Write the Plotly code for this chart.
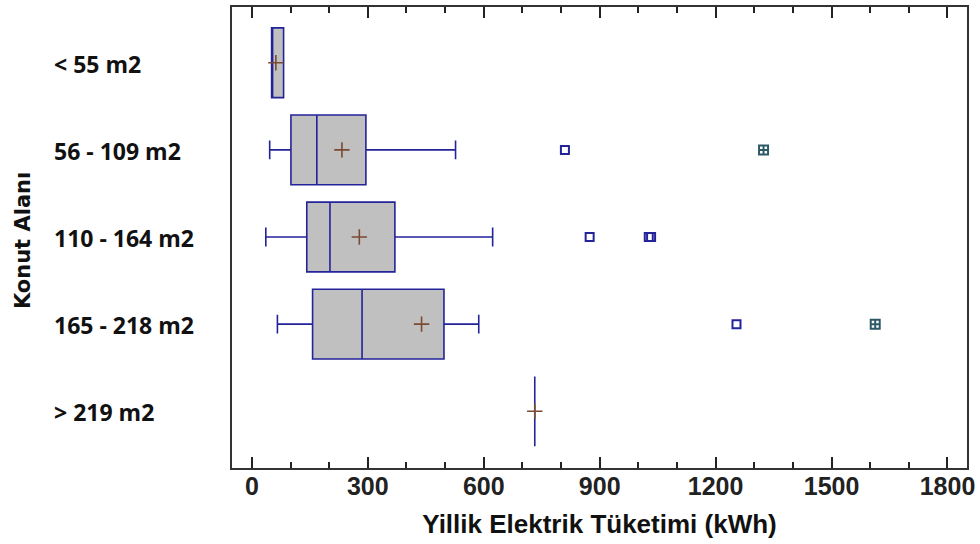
import plotly.graph_objects as go

categories = ["< 55 m2", "56 - 109 m2", "110 - 164 m2", "165 - 218 m2", "> 219 m2"]
q1 = [51, 101, 142, 157, 732]
median = [51, 168, 202, 285, 732]
q3 = [82, 295, 370, 497, 732]
lower_whisker = [51, 46, 36, 66, 732]
upper_whisker = [82, 527, 623, 587, 732]
means = [62, 233, 278, 439, 732]

# outliers (category index, value)
out_cat = [1, 2, 2, 2, 3]
out_val = [810, 874, 1027, 1033, 1254]
far_cat = [1, 3]
far_val = [1324, 1613]

xtick_vals = [0, 300, 600, 900, 1200, 1500, 1800]
minor_vals = list(range(0, 1801, 100))

pos = list(range(len(categories)))
NAVY = "#23239a"
BROWN = "#7a4a32"
XRANGE = [-51.5, 1850.5]

fig = go.Figure()
fig.add_trace(go.Box(
    y=pos, q1=q1, median=median, q3=q3,
    lowerfence=lower_whisker, upperfence=upper_whisker,
    orientation="h", width=0.8, whiskerwidth=0.27,
    fillcolor="#c0c0c0", line=dict(color=NAVY, width=1.6),
    boxpoints=False, showlegend=False, hoverinfo="skip",
))
fig.add_trace(go.Scatter(
    x=means, y=pos, mode="markers",
    marker=dict(symbol="cross-thin-open", size=11, color=BROWN, line=dict(color=BROWN, width=1.6)),
    showlegend=False, hoverinfo="skip",
))
fig.add_trace(go.Scatter(
    x=out_val, y=out_cat, mode="markers",
    marker=dict(symbol="square-open", size=8, color=NAVY, line=dict(color=NAVY, width=2)),
    showlegend=False, hoverinfo="skip",
))
fig.add_trace(go.Scatter(
    x=far_val, y=far_cat, mode="markers",
    marker=dict(symbol="square-cross-open", size=9, color="#2e5a68", line=dict(color="#2e5a68", width=2)),
    showlegend=False, hoverinfo="skip",
))
# invisible trace to carry the minor-tick overlay axis
fig.add_trace(go.Scatter(
    x=[XRANGE[0]], y=[0], xaxis="x2", mode="markers",
    marker=dict(opacity=0), showlegend=False, hoverinfo="skip",
))

L, R, T, B = 232, 9, 5, 76
W, H = 980, 544
pw = W - L - R
ph = H - T - B

annotations = []
for i, c in enumerate(categories):
    annotations.append(dict(
        text=c, xref="paper", yref="y", x=(51 - L) / pw, y=i, xanchor="left", yanchor="middle",
        showarrow=False, yshift=-1,
        font=dict(family="Open Sans", size=23, color="#111111", weight="bold"),
    ))
annotations.append(dict(
    text="Konut Alanı", xref="paper", yref="paper", x=(22 - L) / pw, y=(H - B - 240) / ph,
    xanchor="center", yanchor="middle", textangle=-90, showarrow=False,
    font=dict(family="DejaVu Sans", size=21, color="#111111", weight="bold"),
))

fig.update_layout(
    width=W, height=H,
    margin=dict(l=L, r=R, t=T, b=B, pad=0),
    paper_bgcolor="white", plot_bgcolor="white",
    annotations=annotations,
    xaxis=dict(
        range=XRANGE, tickmode="array", tickvals=xtick_vals,
        ticks="inside", ticklen=11, tickwidth=2, tickcolor="#222222",
        showline=True, linecolor="#333333", linewidth=2, mirror="ticks",
        showgrid=False, zeroline=False,
        ticklabelstandoff=-5,
        tickfont=dict(family="Liberation Sans", size=25, color="#222222", weight="bold"),
        title=dict(text="Yillik Elektrik Tüketimi (kWh)", standoff=16,
                   font=dict(family="Liberation Sans", size=26, color="#111111", weight="bold")),
    ),
    xaxis2=dict(
        overlaying="x", anchor="y", side="bottom", range=XRANGE,
        tickmode="array", tickvals=minor_vals,
        ticks="inside", ticklen=6, tickwidth=2, tickcolor="#222222",
        showline=True, linecolor="#333333", linewidth=2, mirror="ticks", showticklabels=False,
        showgrid=False, zeroline=False,
    ),
    yaxis=dict(
        range=[4.651, -0.64], showticklabels=False, ticks="",
        showline=True, linecolor="#333333", linewidth=2, mirror=True,
        showgrid=False, zeroline=False,
    ),
)

fig.write_html("out.html")
